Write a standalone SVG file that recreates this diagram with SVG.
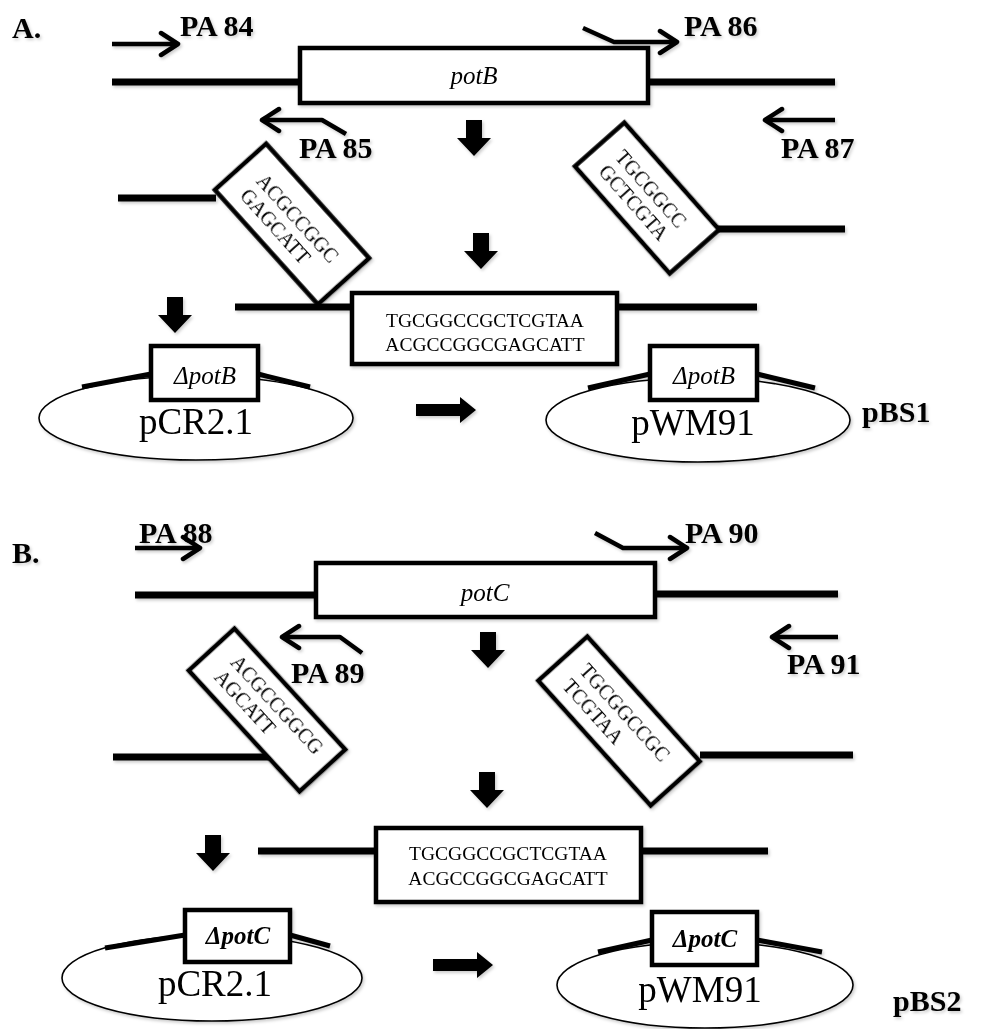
<svg xmlns="http://www.w3.org/2000/svg" width="981" height="1029" viewBox="0 0 981 1029">
  <style>
    .dna { stroke: #000; stroke-width: 7; fill: none; }
    .box { fill: #fff; stroke: #000; stroke-width: 4.5; }
    .primer { stroke: #000; stroke-width: 4.5; fill: none; stroke-linejoin: round; }
    .plasmid { fill: #fff; stroke: #000; stroke-width: 1.6; }
    .arm { stroke: #000; stroke-width: 5; fill: none; }
    .lbl { font-family: "Liberation Serif", "Times New Roman", serif; font-weight: bold; font-size: 30px; fill: #000; }
    .seq { font-family: "Liberation Serif", "Times New Roman", serif; font-size: 20px; fill: #000; }
    .mid { font-family: "Liberation Serif", "Times New Roman", serif; font-size: 19.5px; fill: #000; text-anchor: middle; }
    .gene { font-family: "Liberation Serif", "Times New Roman", serif; font-style: italic; font-size: 25px; fill: #000; text-anchor: middle; }
    .vec { font-family: "Liberation Serif", "Times New Roman", serif; font-size: 37px; fill: #000; text-anchor: middle; }
  </style>
  <defs>
    <filter id="shade" x="-5%" y="-5%" width="110%" height="110%">
      <feDropShadow dx="1.5" dy="2" stdDeviation="1.5" flood-color="#000" flood-opacity="0.2"/>
    </filter>
    <marker id="chev" viewBox="0 0 24 28" refX="21" refY="14" markerWidth="24" markerHeight="28" markerUnits="userSpaceOnUse" orient="auto">
      <path d="M4,3 L21,14 L4,25" fill="none" stroke="#000" stroke-width="4.5" stroke-linecap="round" stroke-linejoin="round"/>
    </marker>
    <path id="down" d="M-8,0 H8 V18 H17 L0,36 L-17,18 H-8 Z" fill="#000"/>
    <path id="right" d="M0,-6 H44 V-13 L60,0 L44,13 V6 H0 Z" fill="#000"/>
  </defs>

  <g filter="url(#shade)">
  <!-- ========== Panel A ========== -->
  <text class="lbl" x="12" y="38">A.</text>

  <g id="connectors-A">
    <!-- primers -->
    <polyline class="primer" points="112,44 178,44" marker-end="url(#chev)"/>
    <polyline class="primer" points="583,28 614,42 677,42" marker-end="url(#chev)"/>
    <polyline class="primer" points="346,134 322,120 262,120" marker-end="url(#chev)"/>
    <polyline class="primer" points="835,120 765,120" marker-end="url(#chev)"/>
    <!-- DNA strands -->
    <line class="dna" x1="112" y1="82" x2="300" y2="82"/>
    <line class="dna" x1="648" y1="82" x2="835" y2="82"/>
    <line class="dna" x1="118" y1="198" x2="216" y2="198"/>
    <line class="dna" x1="717" y1="229" x2="845" y2="229"/>
    <line class="dna" x1="235" y1="307" x2="352" y2="307"/>
    <line class="dna" x1="617" y1="307" x2="757" y2="307"/>
    <!-- process arrows -->
    <use href="#down" x="474" y="120"/>
    <use href="#down" x="481" y="233"/>
    <use href="#down" x="175" y="297"/>
    <use href="#right" x="416" y="410"/>
  </g>

  <text class="lbl" x="180" y="36">PA 84</text>
  <text class="lbl" x="684" y="36">PA 86</text>
  <text class="lbl" x="299" y="158">PA 85</text>
  <text class="lbl" x="781" y="158">PA 87</text>

  <g id="potB">
    <rect class="box" x="300" y="48" width="348" height="55"/>
    <text class="gene" x="474" y="84">potB</text>
  </g>

  <g id="flankB-up" transform="translate(292,224) rotate(48)">
    <rect class="box" x="-77" y="-34.5" width="154" height="69"/>
    <text class="seq" x="-56" y="-1">ACGCCGGC</text>
    <text class="seq" x="-56" y="21">GAGCATT</text>
  </g>

  <g id="flankB-down" transform="translate(647,198) rotate(48.5)">
    <rect class="box" x="-71.5" y="-33" width="143" height="66"/>
    <text class="seq" x="-52" y="-2">TGCGGCC</text>
    <text class="seq" x="-52" y="20">GCTCGTA</text>
  </g>

  <g id="fusionB">
    <rect class="box" x="352" y="293" width="265" height="71"/>
    <text class="mid" x="485" y="327">TGCGGCCGCTCGTAA</text>
    <text class="mid" x="485" y="351">ACGCCGGCGAGCATT</text>
  </g>

  <g id="pCR21-A">
    <ellipse class="plasmid" cx="196" cy="418" rx="157" ry="42"/>
    <polyline class="arm" points="82,387 151,374"/>
    <polyline class="arm" points="258,374 310,387"/>
    <rect class="box" x="151" y="346" width="107" height="54"/>
    <text class="gene" x="205" y="384">ΔpotB</text>
    <text class="vec" x="196" y="434">pCR2.1</text>
  </g>

  <g id="pWM91-A">
    <ellipse class="plasmid" cx="698" cy="420" rx="152" ry="42"/>
    <polyline class="arm" points="588,388 650,374"/>
    <polyline class="arm" points="757,374 815,388"/>
    <rect class="box" x="650" y="346" width="107" height="54"/>
    <text class="gene" x="704" y="384">ΔpotB</text>
    <text class="vec" x="693" y="435">pWM91</text>
  </g>
  <text class="lbl" x="862" y="422" font-size="34">pBS1</text>

  <!-- ========== Panel B ========== -->
  <text class="lbl" x="12" y="563">B.</text>

  <g id="connectors-B">
    <polyline class="primer" points="135,548 200,548" marker-end="url(#chev)"/>
    <polyline class="primer" points="595,533 623,548 687,548" marker-end="url(#chev)"/>
    <polyline class="primer" points="362,653 340,637 282,637" marker-end="url(#chev)"/>
    <polyline class="primer" points="838,637 772,637" marker-end="url(#chev)"/>
    <line class="dna" x1="135" y1="595" x2="316" y2="595"/>
    <line class="dna" x1="655" y1="594" x2="838" y2="594"/>
    <line class="dna" x1="113" y1="757" x2="270" y2="757"/>
    <line class="dna" x1="700" y1="755" x2="853" y2="755"/>
    <line class="dna" x1="258" y1="851" x2="376" y2="851"/>
    <line class="dna" x1="641" y1="851" x2="768" y2="851"/>
    <use href="#down" x="488" y="632"/>
    <use href="#down" x="487" y="772"/>
    <use href="#down" x="213" y="835"/>
    <use href="#right" x="433" y="965"/>
  </g>

  <text class="lbl" x="139" y="543">PA 88</text>
  <text class="lbl" x="685" y="543">PA 90</text>
  <text class="lbl" x="291" y="683">PA 89</text>
  <text class="lbl" x="787" y="674">PA 91</text>

  <g id="potC">
    <rect class="box" x="316" y="563" width="339" height="54"/>
    <text class="gene" x="485" y="601">potC</text>
  </g>

  <g id="flankC-up" transform="translate(267,710) rotate(47.5)">
    <rect class="box" x="-82" y="-31" width="164" height="62"/>
    <text class="seq" x="-60" y="-4">ACGCCGGCG</text>
    <text class="seq" x="-60" y="18">AGCATT</text>
  </g>

  <g id="flankC-down" transform="translate(619,721) rotate(48)">
    <rect class="box" x="-84" y="-33" width="168" height="66"/>
    <text class="seq" x="-64" y="-3">TGCGGCCGC</text>
    <text class="seq" x="-64" y="20">TCGTAA</text>
  </g>

  <g id="fusionC">
    <rect class="box" x="376" y="828" width="265" height="74"/>
    <text class="mid" x="508" y="860">TGCGGCCGCTCGTAA</text>
    <text class="mid" x="508" y="885">ACGCCGGCGAGCATT</text>
  </g>

  <g id="pCR21-B">
    <ellipse class="plasmid" cx="212" cy="978" rx="150" ry="43"/>
    <polyline class="arm" points="105,948 185,935"/>
    <polyline class="arm" points="290,935 330,946"/>
    <rect class="box" x="185" y="910" width="105" height="52"/>
    <text class="gene" x="238" y="944" font-weight="bold" font-size="23">ΔpotC</text>
    <text class="vec" x="215" y="996">pCR2.1</text>
  </g>

  <g id="pWM91-B">
    <ellipse class="plasmid" cx="705" cy="985" rx="148" ry="43"/>
    <polyline class="arm" points="598,952 652,940"/>
    <polyline class="arm" points="757,940 822,952"/>
    <rect class="box" x="652" y="912" width="105" height="53"/>
    <text class="gene" x="705" y="947" font-weight="bold" font-size="23">ΔpotC</text>
    <text class="vec" x="700" y="1002">pWM91</text>
  </g>
  <text class="lbl" x="893" y="1011" font-size="34">pBS2</text>
  </g>
</svg>
